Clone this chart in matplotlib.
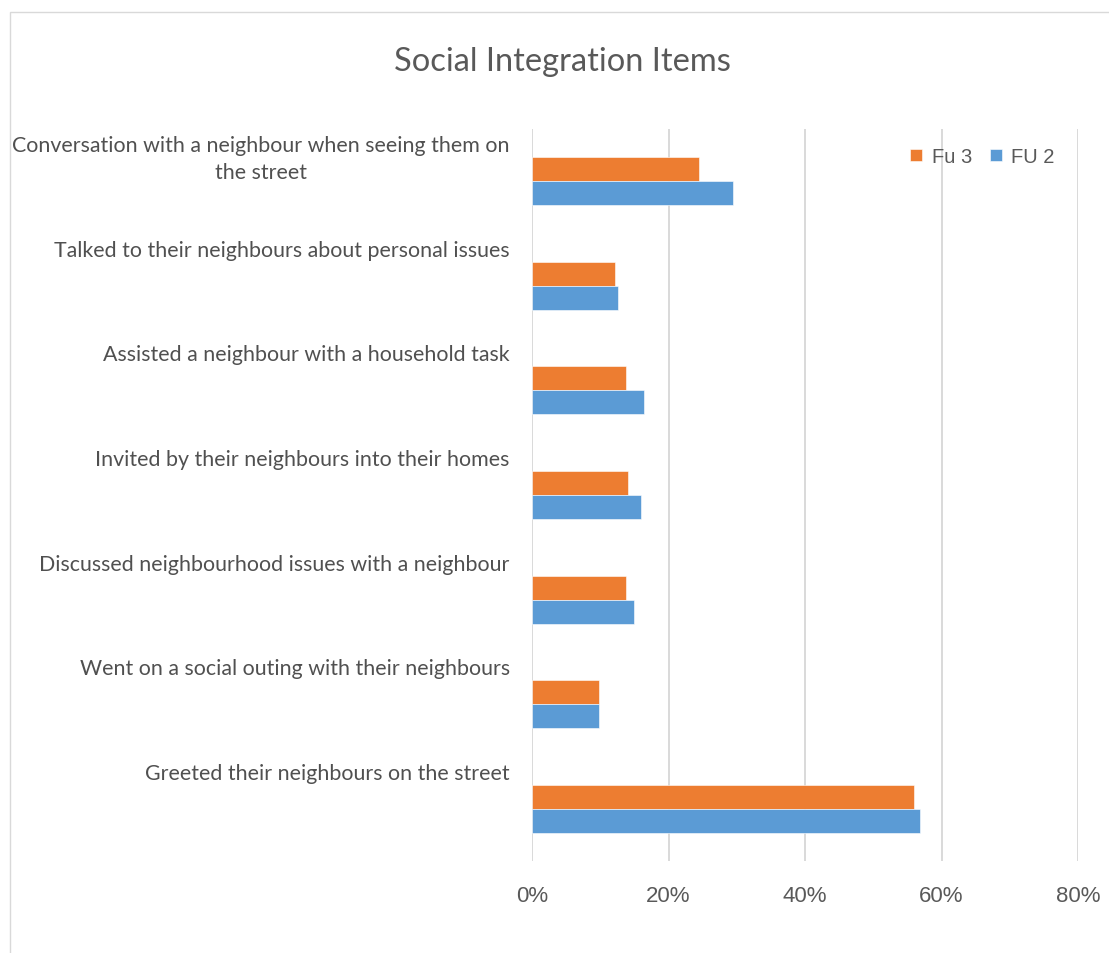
import numpy as np
import matplotlib.pyplot as plt
from matplotlib.patches import Rectangle
from matplotlib.transforms import ScaledTranslation

# データ（上から順）
categories = [
    "Conversation with a neighbour when seeing them on\nthe street",
    "Talked to their neighbours about personal issues",
    "Assisted a neighbour with a household task",
    "Invited by their neighbours into their homes",
    "Discussed neighbourhood issues with a neighbour",
    "Went on a social outing with their neighbours",
    "Greeted their neighbours on the street",
]
fu3 = [0.244, 0.122, 0.137, 0.141, 0.137, 0.098, 0.560]
fu2 = [0.294, 0.126, 0.164, 0.160, 0.150, 0.098, 0.569]
xticks = [0.0, 0.2, 0.4, 0.6, 0.8]
xticklabels = ["0%", "20%", "40%", "60%", "80%"]

orange = "#ED7D31"
blue = "#5B9BD5"
grey_txt = "#595959"

fig = plt.figure(figsize=(11.09, 9.54), dpi=100)
fig.patches.append(Rectangle((10/1109, -0.1), 1.2, 1 - 13/954 + 0.1,
                             transform=fig.transFigure, fill=False,
                             edgecolor="#d9d9d9", linewidth=1.0))

ax = fig.add_axes([532/1109, 1 - 862/954, 546/1109, 732/954])

y = np.arange(len(categories))
h = 0.23
ax.barh(y - h/2, fu3, height=h, color=orange, edgecolor="white", linewidth=0.4, label="Fu 3", zorder=3)
ax.barh(y + h/2, fu2, height=h, color=blue, edgecolor="white", linewidth=0.4, label="FU 2", zorder=3)

ax.set_xlim(0, 0.8)
ax.set_ylim(len(categories) - 0.5, -0.5)
ax.set_xticks(xticks)
ax.set_xticklabels(xticklabels, fontsize=16, color=grey_txt, family="Liberation Sans")
ax.tick_params(axis="x", length=0, pad=17)
ax.grid(axis="x", color="#d9d9d9", linewidth=1.4, zorder=0)
ax.set_axisbelow(True)
for s in ax.spines.values():
    s.set_visible(False)

ax.set_yticks(y)
ax.set_yticklabels(categories, fontsize=15.4, color="#505050", family="Lato",
                   ha="right", va="top", multialignment="center", linespacing=1.42)
ax.tick_params(axis="y", length=0, pad=16)
off = ScaledTranslation(0, 0.46, fig.dpi_scale_trans)  # ラベルを上にずらす
for lab in ax.get_yticklabels():
    lab.set_transform(lab.get_transform() + off)

ax.legend(loc="upper right", bbox_to_anchor=(0.99, 1.0), ncol=2, frameon=False,
          handlelength=0.6, handleheight=0.6, handletextpad=0.45, columnspacing=0.9,
          prop={"family": "Liberation Sans", "size": 14.5}, labelcolor=grey_txt)

fig.text(562/1109, 1 - 62/954, "Social Integration Items", ha="center", va="center",
         fontsize=23.5, color=grey_txt, family="Lato")

fig.savefig("out.png", dpi=100)
